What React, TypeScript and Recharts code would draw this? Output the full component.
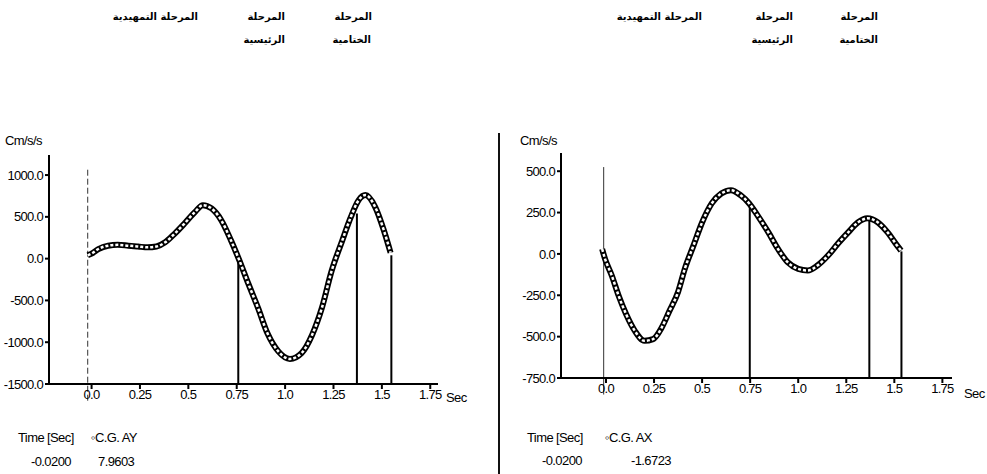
import React from 'react';
import { LineChart, Line, XAxis, YAxis, ReferenceLine } from 'recharts';

// C.G. AY (left panel)
const ayTime = [-0.02, 0, 0.035, 0.085, 0.135, 0.19, 0.24, 0.29, 0.335, 0.38, 0.43, 0.48, 0.535, 0.575, 0.62, 0.67, 0.72, 0.76, 0.81, 0.86, 0.91, 0.965, 1.025, 1.085, 1.14, 1.19, 1.24, 1.295, 1.34, 1.38, 1.415, 1.465, 1.51, 1.545];
const ayValue = [40, 60, 115, 155, 165, 155, 145, 135, 145, 195, 300, 420, 560, 640, 600, 460, 220, 0, -300, -590, -900, -1110, -1200, -1130, -910, -590, -150, 215, 500, 700, 760, 620, 340, 70];

// C.G. AX (right panel)
const axTime = [-0.02, -0.005, 0.03, 0.065, 0.105, 0.15, 0.2, 0.245, 0.29, 0.33, 0.375, 0.41, 0.455, 0.5, 0.55, 0.6, 0.65, 0.7, 0.745, 0.79, 0.845, 0.895, 0.945, 1.0, 1.05, 1.1, 1.155, 1.205, 1.26, 1.31, 1.36, 1.415, 1.465, 1.515, 1.535];
const axValue = [30, -30, -130, -250, -365, -465, -525, -515, -445, -345, -230, -90, 50, 190, 305, 365, 385, 355, 305, 230, 130, 30, -50, -90, -100, -70, -10, 60, 130, 190, 215, 190, 130, 50, 20];

// phase boundaries (time, curve value where the vertical line stops)
const ayMarkTime = [0.758, 1.371, 1.549];
const ayMarkTop = [-20, 540, 40];
const axMarkTime = [0.748, 1.37, 1.537];
const axMarkTop = [290, 208, 15];

const timeTicks = [0, 0.25, 0.5, 0.75, 1, 1.25, 1.5, 1.75];
const timeTickLabels = ['0.0', '0.25', '0.5', '0.75', '1.0', '1.25', '1.5', '1.75'];
const ayTicks = [-1500, -1000, -500, 0, 500, 1000];
const axTicks = [-750, -500, -250, 0, 250, 500];

const phaseLabels = ['المرحلة التمهيدية', 'المرحلة', 'الرئيسية', 'المرحلة', 'الختامية'];

const tickFont = "'Liberation Sans', Arial, sans-serif";
const arabicFont = "'DejaVu Sans', sans-serif";

const ayData = ayTime.map((t, i) => ({ t, v: ayValue[i] }));
const axData = axTime.map((t, i) => ({ t, v: axValue[i] }));

const fmtTime = (v: number) => {
  const i = timeTicks.indexOf(v);
  return i >= 0 ? timeTickLabels[i] : String(v);
};

const txt = (left: number, top: number, s: string, extra: React.CSSProperties = {}) => (
  <div style={{ position: 'absolute', left, top, fontFamily: tickFont, fontSize: 13, letterSpacing: -0.6, color: '#000', whiteSpace: 'nowrap', lineHeight: '16px', ...extra }}>{s}</div>
);

const arabic = (right: number, top: number, s: string) => (
  <div dir="rtl" style={{ position: 'absolute', right: 987 - right, top, fontFamily: arabicFont, fontWeight: 'bold', fontSize: 10, color: '#000', whiteSpace: 'nowrap', lineHeight: '14px' }}>{s}</div>
);

const tickStyle = { fill: '#000', fontSize: 13, fontFamily: tickFont, letterSpacing: -0.7 };

type PanelProps = {
  data: { t: number; v: number }[];
  xDomain: [number, number];
  yDomain: [number, number];
  yTicks: number[];
  markTime: number[];
  markTop: number[];
  startLine: { t: number; from: number; to: number; dash?: string };
  width: number;
  margin: { top: number; right: number; bottom: number; left: number };
};

const Panel = ({ data, xDomain, yDomain, yTicks, markTime, markTop, startLine, width, margin }: PanelProps) => (
  <LineChart width={width} height={474} data={data} margin={margin}>
    <XAxis
      type="number"
      dataKey="t"
      domain={xDomain}
      ticks={timeTicks}
      tickFormatter={fmtTime}
      allowDataOverflow
      height={30}
      stroke="#000"
      strokeWidth={2}
      tickSize={5}
      tickMargin={1}
      tick={tickStyle}
    />
    <YAxis
      type="number"
      domain={yDomain}
      ticks={yTicks}
      tickFormatter={(v: number) => v.toFixed(1)}
      allowDataOverflow
      width={40}
      stroke="#000"
      strokeWidth={2}
      tickSize={4}
      tickMargin={2}
      tick={tickStyle}
    />
    <ReferenceLine
      segment={[{ x: startLine.t, y: startLine.from }, { x: startLine.t, y: startLine.to }]}
      stroke="#333"
      strokeWidth={1}
      strokeDasharray={startLine.dash}
      ifOverflow="visible"
    />
    {markTime.map((t, i) => (
      <ReferenceLine
        key={i}
        segment={[{ x: t, y: yDomain[0] }, { x: t, y: markTop[i] }]}
        stroke="#000"
        strokeWidth={2}
        ifOverflow="visible"
      />
    ))}
    <Line type="monotone" dataKey="v" stroke="#000" strokeWidth={6} dot={false} isAnimationActive={false} />
    <Line type="monotone" dataKey="v" stroke="#fff" strokeWidth={2.5} strokeDasharray="3 2" dot={false} isAnimationActive={false} />
  </LineChart>
);

export default function App() {
  return (
    <div style={{ position: 'absolute', left: 0, top: 0, width: 987, height: 474, background: '#fff', overflow: 'hidden' }}>
      {/* left panel: C.G. AY */}
      <div style={{ position: 'absolute', left: 0, top: 0 }}>
        <Panel
          data={ayData}
          xDomain={[-0.22, 1.79]}
          yDomain={[-1500, 1240]}
          yTicks={ayTicks}
          markTime={ayMarkTime}
          markTop={ayMarkTop}
          startLine={{ t: -0.02, from: -1700, to: 1070, dash: '6 3' }}
          width={490}
          margin={{ top: 155, right: 52, bottom: 60, left: 9 }}
        />
      </div>
      {/* right panel: C.G. AX */}
      <div style={{ position: 'absolute', left: 490, top: 0 }}>
        <Panel
          data={axData}
          xDomain={[-0.234, 1.8]}
          yDomain={[-750, 610]}
          yTicks={axTicks}
          markTime={axMarkTime}
          markTop={axMarkTop}
          startLine={{ t: -0.012, from: -850, to: 525 }}
          width={497}
          margin={{ top: 153, right: 35, bottom: 66, left: 31 }}
        />
      </div>

      {/* scan fold between the two figures */}
      <div style={{ position: 'absolute', left: 498, top: 133, width: 2, height: 341, background: '#111' }} />

      {arabic(198, 10, phaseLabels[0])}
      {arabic(285, 10, phaseLabels[1])}
      {arabic(285, 33, phaseLabels[2])}
      {arabic(372, 10, phaseLabels[3])}
      {arabic(371, 33, phaseLabels[4])}

      {arabic(702, 10, phaseLabels[0])}
      {arabic(793, 10, phaseLabels[1])}
      {arabic(793, 33, phaseLabels[2])}
      {arabic(878, 10, phaseLabels[3])}
      {arabic(878, 33, phaseLabels[4])}

      {txt(5, 133, 'Cm/s/s')}
      {txt(446, 390, 'Sec')}
      {txt(18, 430, 'Time [Sec]')}
      {txt(91, 430, '◦C.G. AY')}
      {txt(31, 454, '-0.0200')}
      {txt(98, 454, '7.9603')}

      {txt(520, 133, 'Cm/s/s')}
      {txt(964, 386, 'Sec')}
      {txt(527, 430, 'Time [Sec]')}
      {txt(605, 430, '◦C.G. AX')}
      {txt(542, 453, '-0.0200')}
      {txt(631, 453, '-1.6723')}
    </div>
  );
}
